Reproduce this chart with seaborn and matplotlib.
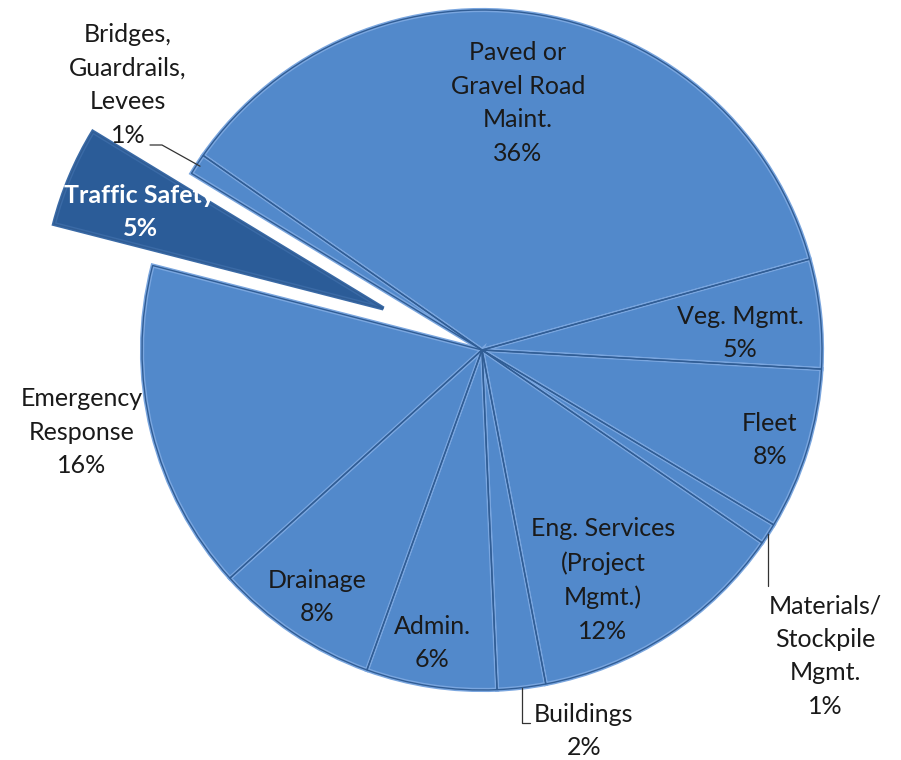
import matplotlib
matplotlib.use("Agg")
import numpy as np
import matplotlib.pyplot as plt
import seaborn as sns

# slice data, clockwise starting with the largest slice
categories = ["Paved or\nGravel Road\nMaint.", "Veg. Mgmt.", "Fleet",
              "Materials/\nStockpile\nMgmt.", "Eng. Services\n(Project\nMgmt.)",
              "Buildings", "Admin.", "Drainage", "Emergency\nResponse",
              "Traffic Safety", "Bridges,\nGuardrails,\nLevees"]
shares = [36.0, 5.2, 7.7, 1.0, 12.4, 2.3, 6.2, 7.8, 15.7, 4.7, 1.0]

# styling / layout (pixel coords, y down)
W, H = 901, 760
CENTER = (482, 350)
RADIUS = 340
explode = [0, 0, 0, 0, 0, 0, 0, 0, 0, 107, 0]   # absolute offset in px
colors = ["#5289cb"] * 9 + ["#2b5c98", "#5289cb"]
label_pos = [(518, 103), (740, 333), (770, 440), (825, 656), (603, 580),
             (584, 731), (432, 643), (317, 597), (82, 432), (140, 212), (128, 85)]


def px(x, y):
    return x, H - y


sns.set_theme(style="white")
plt.rcParams["font.family"] = ["Lato", "DejaVu Sans"]

fig = plt.figure(figsize=(W / 100, H / 100), dpi=100)
ax = fig.add_axes([0, 0, 1, 1])

common = dict(startangle=145.1, counterclock=False, explode=explode,
              center=px(*CENTER), radius=RADIUS, frame=True)
# light bevel band along the seams
wedges, _ = ax.pie(shares, colors=colors,
                   wedgeprops=dict(edgecolor="#7aa6df", linewidth=3.0), **common)
# the exploded slice has a darker bevel
wedges[9].set_edgecolor("#3a6aa6")
# thin dark seam on top
ax.pie(shares, colors=["none"] * len(shares),
       wedgeprops=dict(edgecolor="#305d95", linewidth=1.0), **common)
ax.set_xlim(0, W)
ax.set_ylim(0, H)
ax.set_aspect("equal")
ax.axis("off")

for i, (name, val) in enumerate(zip(categories, shares)):
    txt = f"{name}\n{val:.0f}%"
    x, y = px(*label_pos[i])
    if name == "Traffic Safety":
        ax.text(x, y, txt, ha="center", va="center", fontsize=18,
                color="white", fontweight="bold", linespacing=1.55)
    else:
        ax.text(x, y, txt, ha="center", va="center", fontsize=18,
                color="#1a1a1a", linespacing=1.55)


# leader lines for the small outside labels
def wedge_point(w, frac=1.0):
    ang = np.deg2rad((w.theta1 + w.theta2) / 2)
    cx, cy = w.center
    return cx + w.r * frac * np.cos(ang), cy + w.r * frac * np.sin(ang)


bx, by = wedge_point(wedges[10], 0.99)
ax.plot([px(150, 145)[0], px(162, 145)[0], bx], [px(150, 145)[1], px(162, 145)[1], by],
        color="#333333", lw=0.9)
mx, my = wedge_point(wedges[3], 1.0)
ax.plot([mx, mx], [my, px(0, 586)[1]], color="#333333", lw=0.9)
gx, gy = wedge_point(wedges[5], 1.0)
ax.plot([gx, gx, px(530, 0)[0]], [gy, px(0, 723)[1], px(0, 723)[1]],
        color="#333333", lw=0.9)

fig.savefig("out.png", dpi=100, facecolor="white")
